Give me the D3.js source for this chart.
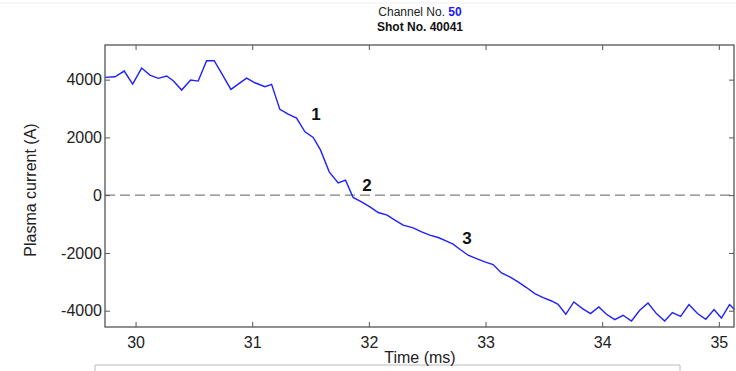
<!DOCTYPE html>
<html>
<head>
<meta charset="utf-8">
<script src="https://d3js.org/d3.v7.min.js"></script>
<style>
  body { margin: 0; background: #fff; }
  svg { display: block; font-family: Arial, "Liberation Sans", sans-serif; }
</style>
</head>
<body>
<div id="chart"></div>
<script>
// time (ms) and plasma current (A)
var times = [29.738, 29.823, 29.903, 29.975, 30.052, 30.123, 30.195, 30.266, 30.323, 30.395,
  30.472, 30.537, 30.609, 30.674, 30.738, 30.817, 30.889, 30.952, 31.023, 31.109,
  31.166, 31.237, 31.308, 31.380, 31.452, 31.523, 31.586, 31.660, 31.737, 31.800,
  31.865, 31.937, 32.009, 32.080, 32.157, 32.223, 32.294, 32.380, 32.452, 32.523,
  32.594, 32.666, 32.722, 32.780, 32.851, 32.923, 32.994, 33.065, 33.137, 33.208,
  33.279, 33.351, 33.422, 33.494, 33.566, 33.622, 33.688, 33.757, 33.831, 33.900,
  33.971, 34.037, 34.108, 34.179, 34.251, 34.322, 34.393, 34.465, 34.536, 34.602,
  34.672, 34.744, 34.817, 34.888, 34.959, 35.022, 35.092, 35.135];
var current = [4080, 4100, 4298, 3847, 4402, 4159, 4045, 4125, 3962, 3639,
  3986, 3951, 4655, 4655, 4218, 3664, 3872, 4055, 3892, 3754,
  3837, 2970, 2807, 2669, 2194, 2000, 1560, 808, 426, 520,
  -80, -232, -406, -600, -693, -867, -1040, -1133, -1272, -1386,
  -1466, -1594, -1698, -1872, -2080, -2194, -2312, -2402, -2693, -2832,
  -3005, -3199, -3407, -3546, -3664, -3778, -4124, -3698, -3927, -4100,
  -3871, -4124, -4308, -4159, -4357, -3986, -3733, -4100, -4357, -4066,
  -4194, -3788, -4100, -4298, -3962, -4253, -3788, -3962];

var xTicks = [30, 31, 32, 33, 34, 35];
var yTicks = [-4000, -2000, 0, 2000, 4000];
var phaseLabels = ["1", "2", "3"];
var phaseT = [31.546, 31.983, 32.84];
var phaseI = [2800, 350, -1490];

var W = 736, H = 371;
var m = {top: 45, right: 2, bottom: 44, left: 105};

var svg = d3.select("#chart").append("svg").attr("width", W).attr("height", H);

var x = d3.scaleLinear().domain([29.738, 35.13]).range([m.left, W - m.right]);
var y = d3.scaleLinear().domain([-4565, 5200]).range([H - m.bottom, m.top]);

// faint frame lines from the screenshot
svg.append("line").attr("x1", 0).attr("x2", W).attr("y1", 3).attr("y2", 3)
  .attr("stroke", "#eee");
svg.append("path").attr("d", "M95,371 V365 H680 V371")
  .attr("fill", "none").attr("stroke", "#bbb");

// title
var t1 = svg.append("text").attr("x", 420).attr("y", 16).attr("text-anchor", "middle")
  .attr("font-size", 12).attr("fill", "#222");
t1.append("tspan").text("Channel No. ");
t1.append("tspan").attr("fill", "#1a1aff").attr("font-weight", "bold").text("50");
svg.append("text").attr("x", 420).attr("y", 31).attr("text-anchor", "middle")
  .attr("font-size", 12).attr("font-weight", "bold").attr("fill", "#111").text("Shot No. 40041");

// zero reference
svg.append("line").attr("x1", x.range()[0]).attr("x2", x.range()[1])
  .attr("y1", y(0)).attr("y2", y(0))
  .attr("stroke", "#808080").attr("stroke-width", 1.4).attr("stroke-dasharray", "10,5");

// trace
var pts = times.map(function(t, i) { return [t, current[i]]; });
var line = d3.line().x(function(d) { return x(d[0]); }).y(function(d) { return y(d[1]); });
svg.append("path").datum(pts).attr("d", line)
  .attr("fill", "none").attr("stroke", "#1f1fff").attr("stroke-width", 1.4);

// axes (ticks pointing inward on all sides)
var axisColor = "#555";
var plain = function(d) { return String(d); }; // keep ascii hyphen minus
function styleAxis(g) {
  g.select(".domain").remove();
  g.selectAll(".tick line").attr("stroke", axisColor);
  g.selectAll(".tick text").attr("fill", "#222").attr("font-size", 16)
    .attr("font-family", "Arial, 'Liberation Sans', sans-serif");
}
svg.append("g").attr("transform", "translate(0," + (H - m.bottom) + ")")
  .call(d3.axisBottom(x).tickValues(xTicks).tickSize(-5).tickPadding(10).tickFormat(plain))
  .call(styleAxis);
svg.append("g").attr("transform", "translate(0," + m.top + ")")
  .call(d3.axisTop(x).tickValues(xTicks).tickSize(-5).tickFormat(""))
  .call(styleAxis);
svg.append("g").attr("transform", "translate(" + m.left + ",0)")
  .call(d3.axisLeft(y).tickValues(yTicks).tickSize(-5).tickPadding(3).tickFormat(plain))
  .call(styleAxis);
svg.append("g").attr("transform", "translate(" + (W - m.right) + ",0)")
  .call(d3.axisRight(y).tickValues(yTicks).tickSize(-5).tickFormat(""))
  .call(styleAxis);

svg.append("rect").attr("x", m.left).attr("y", m.top)
  .attr("width", W - m.right - m.left).attr("height", H - m.bottom - m.top)
  .attr("fill", "none").attr("stroke", axisColor).attr("stroke-width", 1.3);

// phase numbers
svg.selectAll("text.phase").data(phaseLabels).enter().append("text")
  .attr("class", "phase")
  .attr("x", function(d, i) { return x(phaseT[i]); })
  .attr("y", function(d, i) { return y(phaseI[i]); })
  .attr("text-anchor", "middle").attr("dominant-baseline", "central")
  .attr("font-size", 17).attr("font-weight", "bold").attr("fill", "#111")
  .text(function(d) { return d; });

// axis titles
svg.append("text").attr("x", 420).attr("y", 363).attr("text-anchor", "middle")
  .attr("font-size", 16).attr("fill", "#222").text("Time (ms)");
svg.append("text").attr("transform", "translate(36,190) rotate(-90)")
  .attr("text-anchor", "middle").attr("font-size", 16).attr("fill", "#222")
  .text("Plasma current (A)");
</script>
</body>
</html>
